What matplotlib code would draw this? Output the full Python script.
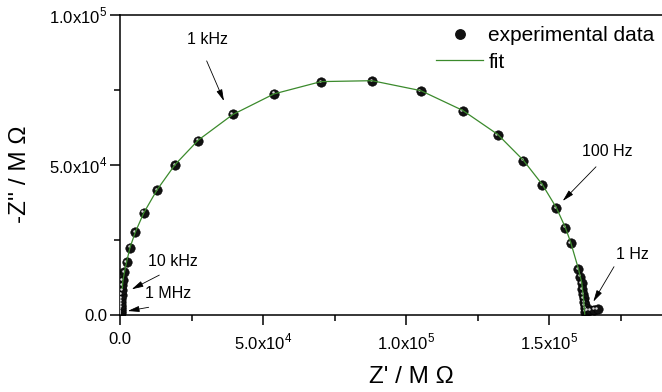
import matplotlib
matplotlib.use("Agg")
import matplotlib.pyplot as plt
from matplotlib.ticker import MultipleLocator, FuncFormatter
from matplotlib.transforms import offset_copy
from matplotlib.lines import Line2D

plt.rcParams['font.family'] = ['Liberation Sans', 'DejaVu Sans']

# impedance spectrum, 1 MHz -> 1 Hz (ohm)
z_re = [130, 160, 200, 240, 280, 330, 390, 450, 520, 600, 700, 800, 944,
        1500, 2340, 3500, 5350, 8290, 12940, 19230, 27380, 39400, 53850,
        70280, 88110, 105140, 119830, 132060, 141010, 147660, 152550,
        155700, 157590, 160250, 160840, 161430, 161700, 161900, 162070,
        162240, 162420, 162590, 162600, 163300, 164500, 165800, 167000]
z_im = [150, 400, 800, 1300, 1900, 2600, 3400, 4400, 5500, 6800, 8300,
        10000, 11670, 14230, 17670, 22430, 27670, 34100, 41670, 50000,
        58100, 66900, 73770, 77570, 78000, 74670, 68000, 60000, 51430,
        43230, 35570, 29100, 23900, 15230, 12770, 10670, 8670, 7000, 5670,
        4330, 3330, 2330, 1100, 1400, 1600, 1800, 2000]

# equivalent circuit fit
fit_re = [800, 1000, 1500, 2340, 3500, 5350, 8290, 12940, 19230, 27380,
          39400, 53850, 70280, 88110, 105140, 119830, 132060, 141010,
          147660, 152550, 155700, 157590, 160250, 161430, 162070, 162500]
fit_im = [8900, 11300, 14000, 17800, 22500, 27600, 34000, 41700, 50100,
          58300, 66800, 73700, 77800, 78100, 74800, 68200, 60200, 51600,
          43500, 35800, 29200, 24200, 15500, 10800, 5600, 300]

# frequency labels: text position, arrow start, arrow tip
freq_labels = ["1 kHz", "10 kHz", "1 MHz", "100 Hz", "1 Hz"]
label_xy = [(30660, 92000), (18530, 18000), (16960, 7000),
            (170450, 54500), (179020, 20300)]
arrow_from = [(30300, 84700), (13740, 13300), (10030, 2570),
              (166430, 49400), (172730, 16100)]
arrow_to = [(36360, 71300), (4090, 8570), (2690, 1330),
            (154790, 38000), (165490, 4430)]

W, H = 662, 392
fig = plt.figure(figsize=(W / 100, H / 100), dpi=100)
ax = fig.add_axes([120 / W, 1 - 315 / H, 572 / W, 300 / H])

# sphere-like markers: dark ball plus a small highlight
ax.plot(z_re, z_im, 'o', color='#111111', ms=6.8, mec='#000000', mew=0.4,
        zorder=2)
hl = offset_copy(ax.transData, fig=fig, x=-1.4, y=1.4, units='dots')
ax.plot(z_re, z_im, 'o', color='#d8d8d8', ms=1.8, mew=0, transform=hl,
        zorder=3)
ax.plot(fit_re, fit_im, '-', color='#3b8a2c', lw=0.9, zorder=4)

for txt, pos, a, b in zip(freq_labels, label_xy, arrow_from, arrow_to):
    ax.text(pos[0], pos[1], txt, fontsize=11.5, ha='center', va='center')
    ax.annotate('', xy=b, xytext=a,
                arrowprops=dict(arrowstyle='-|>,head_length=0.7,head_width=0.18',
                                color='black', lw=0.6, shrinkA=0, shrinkB=0))

ax.set_xlim(0, 2.0e5)
ax.set_ylim(0, 1.0e5)


def sci(v, pos):
    if v == 0:
        return "0.0"
    if v > 1.9e5:
        return ""
    exp = len(str(int(abs(v)))) - 1
    return "%.1fx10$^{\\mathregular{%d}}$" % (v / 10 ** exp, exp)


for axis in (ax.xaxis, ax.yaxis):
    axis.set_major_locator(MultipleLocator(5e4))
    axis.set_minor_locator(MultipleLocator(2.5e4))
    axis.set_major_formatter(FuncFormatter(sci))

ax.tick_params(which='major', direction='out', length=7, width=1.1,
               labelsize=12, pad=2)
ax.tick_params(axis='x', which='major', pad=5)
ax.tick_params(which='minor', direction='out', length=4, width=1.1)
for s in ax.spines.values():
    s.set_linewidth(1.1)

ax.set_xlabel("Z' / M \u03a9", fontsize=17.5)
ax.set_ylabel("-Z'' / M \u03a9", fontsize=17.5)
ax.xaxis.set_label_coords(0.509, -0.17)
ax.yaxis.set_label_coords(-0.155, 0.47)

handles = [Line2D([], [], ls='none', marker='o', color='#111111', ms=6.8),
           Line2D([], [], color='#3b8a2c', lw=0.9)]
fig.legend(handles, ['experimental data', 'fit'], loc='upper left',
           bbox_to_anchor=(426 / W, 1 - 16 / H), frameon=False, fontsize=15,
           borderpad=0, handlelength=2.25, handletextpad=0.25,
           labelspacing=0.35)

fig.savefig('out.png', dpi=100)
